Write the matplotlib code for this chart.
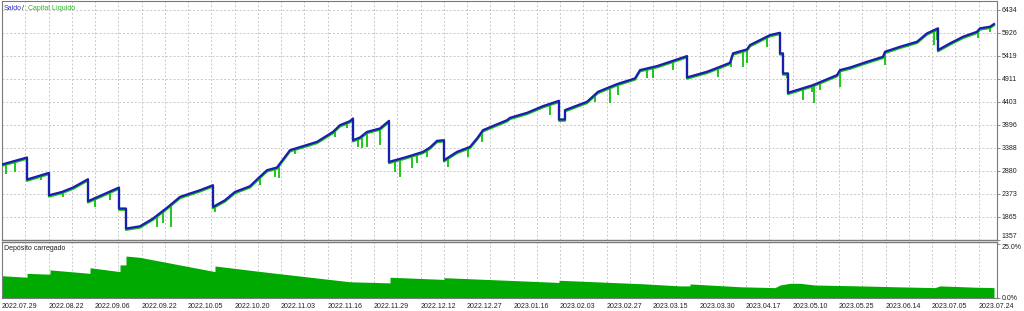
import matplotlib
matplotlib.use("Agg")
import matplotlib.pyplot as plt
import matplotlib.transforms as mtransforms
import numpy as np

# balance curve vertices (trade index, value)
bal_x = [0, 25, 25, 47, 47, 60, 71, 86, 86, 117, 117, 124, 124, 138, 151, 166, 178, 188, 198, 211,
         211, 223, 233, 248, 256, 265, 275, 283, 288, 301, 315, 331, 338, 348, 351, 351, 358, 365,
         378, 387, 387, 405, 421, 428, 435, 442, 442, 455, 468, 475, 481, 505, 508, 525, 541, 557,
         557, 563, 563, 585, 596, 615, 633, 638, 655, 671, 685, 685, 705, 718, 728, 731, 745, 748,
         768, 778, 778, 781, 781, 786, 786, 811, 835, 838, 848, 865, 881, 883, 898, 915, 925, 936,
         936, 948, 961, 975, 978, 988, 992]
bal_y = [3022, 3176, 2691, 2837, 2344, 2417, 2514, 2697, 2212, 2514, 2051, 2051, 1609, 1660, 1830,
         2086, 2307, 2382, 2455, 2565, 2086, 2234, 2417, 2543, 2713, 2896, 2956, 3190, 3338, 3426,
         3521, 3741, 3889, 3978, 4037, 3558, 3618, 3741, 3816, 3984, 3079, 3190, 3300, 3397, 3543,
         3558, 3117, 3300, 3410, 3596, 3779, 3999, 4051, 4161, 4309, 4426, 4015, 4015, 4221, 4404,
         4624, 4794, 4920, 5103, 5191, 5308, 5412, 4942, 5066, 5176, 5264, 5472, 5560, 5655, 5875,
         5926, 5472, 5472, 5030, 5030, 4602, 4772, 4993, 5103, 5160, 5286, 5397, 5507, 5617, 5728,
         5913, 6024, 5545, 5692, 5838, 5948, 6024, 6059, 6118]

# equity dips (trade index, lowest equity)
dip_x = [4, 13, 39, 61, 93, 108, 155, 161, 169, 213, 258, 273, 277, 293, 333, 345, 356, 360, 365,
         378, 393, 398, 410, 415, 425, 446, 466, 480, 548, 558, 593, 608, 616, 645, 651, 671, 716,
         729, 741, 745, 765, 785, 801, 810, 812, 818, 838, 848, 883, 906, 932, 935, 976, 988]
dip_y = [2808, 2852, 2675, 2307, 2086, 2234, 1645, 1727, 1645, 1976, 2565, 2748, 2713, 3250, 3631,
         3816, 3410, 3382, 3410, 3448, 2859, 2748, 2934, 3044, 3190, 2969, 3190, 3521, 4110, 3962,
         4404, 4368, 4551, 4920, 4920, 5103, 4955, 5163, 5176, 5251, 5617, 4920, 4441, 4624, 4368,
         4662, 4735, 5103, 5213, 5617, 5655, 5765, 5802, 5948]

# deposit load, percent
load_x = [0, 25, 25, 48, 48, 88, 88, 118, 118, 124, 124, 138, 213, 213, 265, 348, 388, 388, 442,
          442, 557, 557, 640, 678, 688, 688, 738, 773, 778, 788, 798, 813, 858, 893, 933, 938, 973, 992]
load_y = [10.3, 9.6, 11.4, 11.0, 13.0, 11.4, 14.0, 12.2, 15.3, 15.3, 19.4, 18.8, 12.2, 14.8, 11.9,
          7.5, 7.0, 9.6, 8.6, 9.4, 7.2, 8.2, 6.6, 5.6, 5.6, 6.5, 5.2, 4.8, 6.0, 6.8, 6.8, 6.0, 5.6,
          5.2, 4.8, 5.6, 5.0, 4.8]

y_ticks = [1357, 1865, 2373, 2880, 3388, 3896, 4403, 4911, 5419, 5926, 6434]
date_labels = ['2022.07.29', '2022.08.22', '2022.09.06', '2022.09.22', '2022.10.05', '2022.10.20',
               '2022.11.03', '2022.11.16', '2022.11.29', '2022.12.12', '2022.12.27', '2023.01.16',
               '2023.02.03', '2023.02.27', '2023.03.15', '2023.03.30', '2023.04.17', '2023.05.10',
               '2023.05.25', '2023.06.14', '2023.07.05', '2023.07.24']

BLUE = '#1c1cb4'
GREEN = '#10c010'
FILL = '#00aa00'
GRID = '#c8c8c8'
EDGE = '#7a7a7a'
FONT = 'Liberation Sans'
FS = 5

fig = plt.figure(figsize=(10.24, 3.11), dpi=100)
W, H = 1024, 311
ax = fig.add_axes([2 / W, 1 - 240 / H, 995 / W, 239 / H])
ax2 = fig.add_axes([2 / W, 1 - 298 / H, 995 / W, 56 / H])

x_max = 995
grid_x = np.arange(0, x_max, 23.25)
tick_x = np.arange(len(date_labels)) * 46.5

for a in (ax, ax2):
    a.set_xlim(0, x_max)
    a.set_xticks(grid_x)
    a.tick_params(axis='x', length=0, labelbottom=False)
    a.grid(axis='x', color=GRID, lw=0.7, ls=(0, (2, 2)))
    a.set_axisbelow(True)
    for s in a.spines.values():
        s.set_color(EDGE)
        s.set_linewidth(0.8)
    a.yaxis.tick_right()
    a.tick_params(axis='y', length=2.5, width=0.6, color=EDGE, pad=1,
                  labelsize=FS, labelcolor='#202020')

# top panel
ax.set_ylim(1357, 6626)
ax.set_yticks(y_ticks)
ax.set_yticklabels([str(v) for v in y_ticks], fontfamily=FONT, fontsize=FS)
ax.get_yticklabels()[0].set_va('bottom')
ax.grid(axis='y', color=GRID, lw=0.7, ls=(0, (2, 2)))
ax.spines['bottom'].set_linewidth(1.0)

dip_top = np.interp(dip_x, bal_x, bal_y)
ax.vlines(dip_x, dip_y, dip_top, color=GREEN, lw=1.3, zorder=2)
shift = mtransforms.offset_copy(ax.transData, fig=fig, x=0, y=-0.9, units='points')
ax.plot(bal_x, bal_y, color=GREEN, lw=1.6, transform=shift, zorder=3)
ax.plot(bal_x, bal_y, color=BLUE, lw=1.6, zorder=4)

fig.text(3.5 / W, 1 - 8.3 / H, 'Saldo', color='#3030d0', fontsize=FS, fontfamily=FONT, va='center')
fig.text(22.3 / W, 1 - 8.3 / H, '/', color='#303030', fontsize=FS, fontfamily=FONT, va='center')
fig.text(27.5 / W, 1 - 8.3 / H, 'Capital Líquido', color='#20b820', fontsize=FS, fontfamily=FONT,
         va='center')

# bottom panel
ax2.set_ylim(0, 25.9)
ax2.set_yticks([0, 25])
ax2.set_yticklabels(['0.0%', '25.0%'], fontfamily=FONT, fontsize=FS)
ax2.get_yticklabels()[1].set_va('top')
ax2.spines['top'].set_linewidth(1.0)
ax2.fill_between(load_x, 0, load_y, color=FILL, lw=0, zorder=2)
fig.text(3.5 / W, 1 - 249 / H, 'Depósito carregado', color='#202020', fontsize=FS, fontfamily=FONT,
         va='center')

for tx, lab in zip(tick_x, date_labels):
    ax2.annotate(lab, xy=(tx, 0), xycoords=('data', 'axes fraction'), xytext=(0, -3.5),
                 textcoords='offset points', ha='left', va='top', fontsize=FS,
                 fontfamily=FONT, color='#202020')

fig.savefig('out.png', dpi=100, facecolor='white')
